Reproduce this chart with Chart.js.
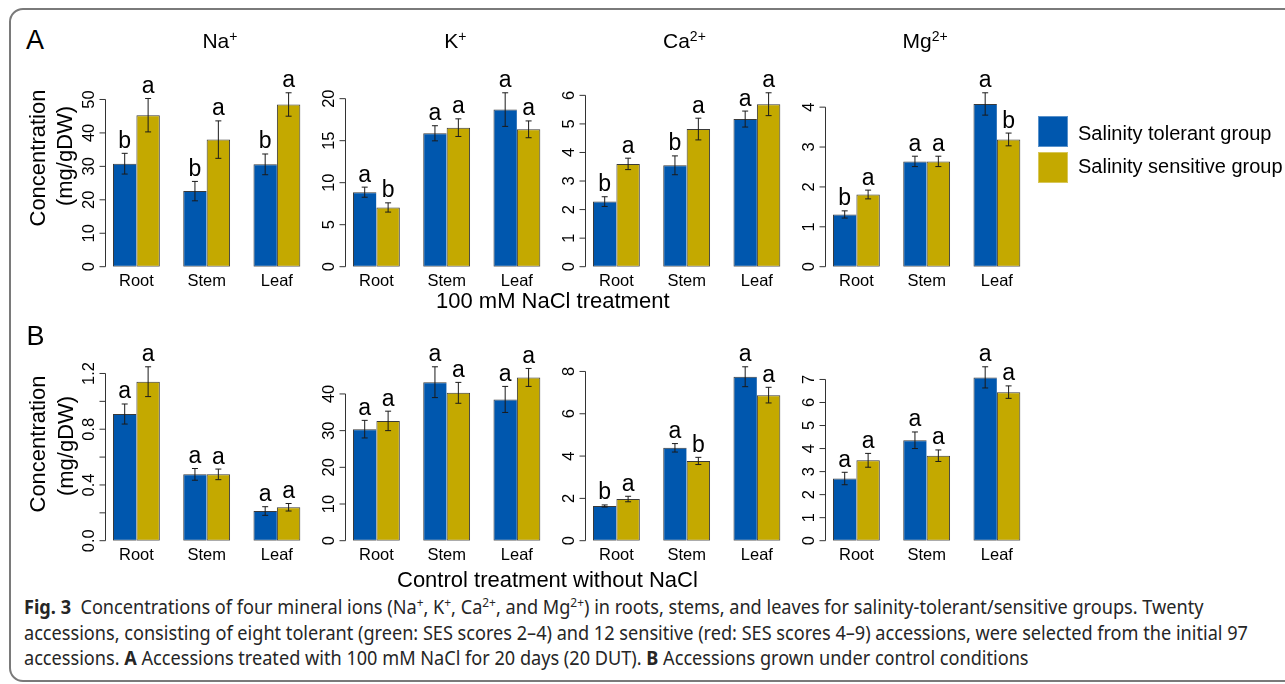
<!DOCTYPE html>
<html>
<head>
<meta charset="utf-8">
<title>Mineral ion concentrations in salinity tolerant and sensitive groups</title>
<script src="https://cdn.jsdelivr.net/npm/chart.js@4.4.1/dist/chart.umd.min.js"></script>
<style>
  html, body { margin: 0; padding: 0; background: #fff; }
  body { width: 1285px; height: 684px; overflow: hidden; position: relative;
         font-family: "Liberation Sans", Arial, sans-serif; color: #000; }
  .frame { position: absolute; left: 9px; top: 8px; width: 1330px; height: 674px;
           box-sizing: border-box; border: 2px solid #7a7a7a; border-radius: 14px; }
  .txt { position: absolute; white-space: nowrap; line-height: 1; }
  .txt sup { font-size: 14px; line-height: 0; vertical-align: 7px; }
  .ytitle { position: absolute; width: 220px; height: 22px; line-height: 22px; font-size: 22px;
            text-align: center; white-space: nowrap; transform: rotate(-90deg); }
  .swatch { position: absolute; width: 30px; height: 31px; box-sizing: border-box;
            border: 1px solid rgba(255,255,255,0.35); }
  canvas { position: absolute; }
  .cap { position: absolute; left: 24px; white-space: nowrap; font-family: "Noto Sans", sans-serif;
         font-size: 19px; line-height: 19px; color: #262626; transform-origin: 0 0; }
  .cap sup { font-size: 12.5px; line-height: 0; vertical-align: 7px; }
</style>
</head>
<body>
<div class="frame"></div>
<div id="figure"></div>
<div class="cap" id="cap1" style="top:598.1px"><b>Fig. 3</b>&nbsp; Concentrations of four mineral ions (Na<sup>+</sup>, K<sup>+</sup>, Ca<sup>2+</sup>, and Mg<sup>2+</sup>) in roots, stems, and leaves for salinity-tolerant/sensitive groups. Twenty</div>
<div class="cap" id="cap2" style="top:623.6px">accessions, consisting of eight tolerant (green: SES scores 2–4) and 12 sensitive (red: SES scores 4–9) accessions, were selected from the initial 97</div>
<div class="cap" id="cap3" style="top:649.1px">accessions. <b>A</b> Accessions treated with 100 mM NaCl for 20 days (20 DUT). <b>B</b> Accessions grown under control conditions</div>
<script>
// ---- categories and labels ----
const organs = ['Root', 'Stem', 'Leaf'];
const groupNames = ['Salinity tolerant group', 'Salinity sensitive group'];
const ionSymbols = ['Na', 'K', 'Ca', 'Mg'];
const ionCharges = ['+', '+', '2+', '2+'];
const treatmentTitles = ['100 mM NaCl treatment', 'Control treatment without NaCl'];
const panelLetters = ['A', 'B'];
const yTitleLines = ['Concentration', '(mg/gDW)'];

// ---- 100 mM NaCl treatment: mean, standard error, significance letter ----
const naSaltTol = [30.8, 22.6, 30.6];
const naSaltTolSE = [3.1, 2.9, 3.1];
const naSaltTolSig = ['b', 'b', 'b'];
const naSaltSen = [45.3, 38.0, 48.5];
const naSaltSenSE = [5.0, 5.6, 3.5];
const naSaltSenSig = ['a', 'a', 'a'];

const kSaltTol = [8.87, 15.88, 18.7];
const kSaltTolSE = [0.6, 0.9, 2.0];
const kSaltTolSig = ['a', 'a', 'a'];
const kSaltSen = [7.05, 16.55, 16.35];
const kSaltSenSE = [0.55, 1.05, 1.0];
const kSaltSenSig = ['b', 'a', 'a'];

const caSaltTol = [2.28, 3.55, 5.17];
const caSaltTolSE = [0.17, 0.33, 0.28];
const caSaltTolSig = ['b', 'b', 'a'];
const caSaltSen = [3.6, 4.82, 5.69];
const caSaltSenSE = [0.2, 0.38, 0.4];
const caSaltSenSig = ['a', 'a', 'a'];

const mgSaltTol = [1.31, 2.64, 4.08];
const mgSaltTolSE = [0.09, 0.13, 0.28];
const mgSaltTolSig = ['b', 'a', 'a'];
const mgSaltSen = [1.81, 2.64, 3.19];
const mgSaltSenSE = [0.11, 0.13, 0.16];
const mgSaltSenSig = ['a', 'a', 'b'];

// ---- control treatment without NaCl ----
const naCtrlTol = [0.909, 0.476, 0.213];
const naCtrlTolSE = [0.072, 0.042, 0.031];
const naCtrlTolSig = ['a', 'a', 'a'];
const naCtrlSen = [1.141, 0.476, 0.24];
const naCtrlSenSE = [0.107, 0.038, 0.027];
const naCtrlSenSig = ['a', 'a', 'a'];

const kCtrlTol = [30.4, 43.2, 38.5];
const kCtrlTolSE = [2.4, 4.2, 3.55];
const kCtrlTolSig = ['a', 'a', 'a'];
const kCtrlSen = [32.65, 40.3, 44.5];
const kCtrlSenSE = [2.65, 2.85, 2.45];
const kCtrlSenSig = ['a', 'a', 'a'];

const caCtrlTol = [1.64, 4.39, 7.75];
const caCtrlTolSE = [0.05, 0.2, 0.47];
const caCtrlTolSig = ['b', 'a', 'a'];
const caCtrlSen = [1.97, 3.77, 6.88];
const caCtrlSenSE = [0.13, 0.17, 0.37];
const caCtrlSenSig = ['a', 'b', 'a'];

const mgCtrlTol = [2.70, 4.36, 7.09];
const mgCtrlTolSE = [0.27, 0.36, 0.46];
const mgCtrlTolSig = ['a', 'a', 'a'];
const mgCtrlSen = [3.49, 3.69, 6.45];
const mgCtrlSenSE = [0.3, 0.25, 0.27];
const mgCtrlSenSig = ['a', 'a', 'a'];

// ---- y-axis ticks and their labels ----
const naSaltTicks = [0, 10, 20, 30, 40, 50];
const naSaltTickLabels = ['0', '10', '20', '30', '40', '50'];
const kSaltTicks = [0, 5, 10, 15, 20];
const kSaltTickLabels = ['0', '5', '10', '15', '20'];
const caSaltTicks = [0, 1, 2, 3, 4, 5, 6];
const caSaltTickLabels = ['0', '1', '2', '3', '4', '5', '6'];
const mgSaltTicks = [0, 1, 2, 3, 4];
const mgSaltTickLabels = ['0', '1', '2', '3', '4'];
const naCtrlTicks = [0, 0.2, 0.4, 0.6, 0.8, 1.0, 1.2];
const naCtrlTickLabels = ['0.0', '', '0.4', '', '0.8', '', '1.2'];
const kCtrlTicks = [0, 10, 20, 30, 40];
const kCtrlTickLabels = ['0', '10', '20', '30', '40'];
const caCtrlTicks = [0, 2, 4, 6, 8];
const caCtrlTickLabels = ['0', '2', '4', '6', '8'];
const mgCtrlTicks = [0, 1, 2, 3, 4, 5, 6, 7];
const mgCtrlTickLabels = ['0', '1', '2', '3', '4', '5', '6', '7'];

// ---- styling and layout ----
const BLUE = '#0057ae';
const GOLD = '#c4a900';
const EDGE = '#3a3a3a';
const INK = '#1a1a1a';
const FONT = '"Liberation Sans", Arial, sans-serif';
const AXIS_X0 = 105.5;      // left edge of the first plot region
const COL_STEP = 240;       // horizontal distance between panels
const PLOT_W = 202.3;       // plot region width (bar units 0.68 .. 9.32)
const PLOT_H = 200;         // height of the y range [0, yMax]
const ZERO_Y = [266.7, 540.7];
const CANVAS_W = 280, CANVAS_H = 300;
const PAD_LEFT = 60.5;

const panels = [
  { row: 0, col: 0, tol: naSaltTol, tolSE: naSaltTolSE, tolSig: naSaltTolSig, sen: naSaltSen, senSE: naSaltSenSE, senSig: naSaltSenSig, ticks: naSaltTicks, tickLabels: naSaltTickLabels },
  { row: 0, col: 1, tol: kSaltTol, tolSE: kSaltTolSE, tolSig: kSaltTolSig, sen: kSaltSen, senSE: kSaltSenSE, senSig: kSaltSenSig, ticks: kSaltTicks, tickLabels: kSaltTickLabels },
  { row: 0, col: 2, tol: caSaltTol, tolSE: caSaltTolSE, tolSig: caSaltTolSig, sen: caSaltSen, senSE: caSaltSenSE, senSig: caSaltSenSig, ticks: caSaltTicks, tickLabels: caSaltTickLabels },
  { row: 0, col: 3, tol: mgSaltTol, tolSE: mgSaltTolSE, tolSig: mgSaltTolSig, sen: mgSaltSen, senSE: mgSaltSenSE, senSig: mgSaltSenSig, ticks: mgSaltTicks, tickLabels: mgSaltTickLabels },
  { row: 1, col: 0, tol: naCtrlTol, tolSE: naCtrlTolSE, tolSig: naCtrlTolSig, sen: naCtrlSen, senSE: naCtrlSenSE, senSig: naCtrlSenSig, ticks: naCtrlTicks, tickLabels: naCtrlTickLabels },
  { row: 1, col: 1, tol: kCtrlTol, tolSE: kCtrlTolSE, tolSig: kCtrlTolSig, sen: kCtrlSen, senSE: kCtrlSenSE, senSig: kCtrlSenSig, ticks: kCtrlTicks, tickLabels: kCtrlTickLabels },
  { row: 1, col: 2, tol: caCtrlTol, tolSE: caCtrlTolSE, tolSig: caCtrlTolSig, sen: caCtrlSen, senSE: caCtrlSenSE, senSig: caCtrlSenSig, ticks: caCtrlTicks, tickLabels: caCtrlTickLabels },
  { row: 1, col: 3, tol: mgCtrlTol, tolSE: mgCtrlTolSE, tolSig: mgCtrlTolSig, sen: mgCtrlSen, senSE: mgCtrlSenSE, senSig: mgCtrlSenSig, ticks: mgCtrlTicks, tickLabels: mgCtrlTickLabels }
];

// group centre on the bar axis: each group is two bars wide with one bar of space
const groupCentre = i => 3 * i + 2;

// error bars, significance letters, R-style y axis and organ labels
function panelDecor(p) {
  return {
    id: 'panelDecor',
    afterDatasetsDraw(chart) {
      const { ctx, chartArea, scales: { x, y } } = chart;
      ctx.save();
      const series = [[p.tol, p.tolSE, p.tolSig], [p.sen, p.senSE, p.senSig]];
      series.forEach(([vals, ses, sig], d) => {
        chart.getDatasetMeta(d).data.forEach((bar, i) => {
          const cx = bar.x;
          const top = y.getPixelForValue(vals[i] + ses[i]);
          const bot = y.getPixelForValue(vals[i] - ses[i]);
          ctx.strokeStyle = INK;
          ctx.lineWidth = 1;
          ctx.beginPath();
          ctx.moveTo(cx, top); ctx.lineTo(cx, bot);
          ctx.moveTo(cx - 3, top); ctx.lineTo(cx + 3, top);
          ctx.moveTo(cx - 3, bot); ctx.lineTo(cx + 3, bot);
          ctx.stroke();
          ctx.fillStyle = '#000';
          ctx.font = '23px ' + FONT;
          ctx.textAlign = 'center';
          ctx.textBaseline = 'alphabetic';
          ctx.fillText(sig[i], cx, top - 5.5);
        });
      });

      // y axis: line from first to last tick, outward ticks, rotated labels
      const ax = chartArea.left;
      ctx.strokeStyle = '#333';
      ctx.lineWidth = 1;
      ctx.beginPath();
      ctx.moveTo(ax, y.getPixelForValue(p.ticks[0]));
      ctx.lineTo(ax, y.getPixelForValue(p.ticks[p.ticks.length - 1]));
      p.ticks.forEach(t => {
        const ty = y.getPixelForValue(t);
        ctx.moveTo(ax - 6, ty); ctx.lineTo(ax, ty);
      });
      ctx.stroke();
      ctx.fillStyle = '#000';
      ctx.font = '16.5px ' + FONT;
      ctx.textAlign = 'center';
      ctx.textBaseline = 'alphabetic';
      p.ticks.forEach((t, i) => {
        const label = p.tickLabels[i];
        if (!label) return;
        ctx.save();
        ctx.translate(ax - 11.5, y.getPixelForValue(t));
        ctx.rotate(-Math.PI / 2);
        ctx.fillText(label, 0, 0);
        ctx.restore();
      });

      // organ names under each group
      organs.forEach((name, i) => {
        ctx.fillText(name, x.getPixelForValue(groupCentre(i)), chartArea.bottom + 19.3);
      });
      ctx.restore();
    }
  };
}

const figure = document.getElementById('figure');

panels.forEach(p => {
  const canvas = document.createElement('canvas');
  canvas.width = CANVAS_W;
  canvas.height = CANVAS_H;
  const left = Math.round(AXIS_X0 + p.col * COL_STEP - PAD_LEFT);
  const top = Math.round(ZERO_Y[p.row] - PLOT_H - 60);
  canvas.style.left = left + 'px';
  canvas.style.top = top + 'px';
  figure.appendChild(canvas);

  const padLeft = AXIS_X0 + p.col * COL_STEP - left;
  const padTop = ZERO_Y[p.row] - PLOT_H - top;
  const peak = Math.max(...p.tol.map((v, i) => v + p.tolSE[i]), ...p.sen.map((v, i) => v + p.senSE[i]));
  const yMax = peak * 1.15;

  const barStyle = { borderColor: EDGE, borderSkipped: false, categoryPercentage: 2 / 3, barPercentage: 1 };
  new Chart(canvas, {
    type: 'bar',
    data: {
      datasets: [
        Object.assign({ label: groupNames[0], backgroundColor: BLUE,
          borderWidth: { top: 1, left: 1, bottom: 1, right: 0 },
          data: p.tol.map((v, i) => ({ x: groupCentre(i), y: v })) }, barStyle),
        Object.assign({ label: groupNames[1], backgroundColor: GOLD, borderWidth: 1,
          data: p.sen.map((v, i) => ({ x: groupCentre(i), y: v })) }, barStyle)
      ]
    },
    options: {
      responsive: false,
      animation: false,
      events: [],
      devicePixelRatio: 1,
      layout: { padding: { left: padLeft, right: CANVAS_W - padLeft - PLOT_W, top: padTop, bottom: CANVAS_H - padTop - PLOT_H } },
      plugins: { legend: { display: false }, tooltip: { enabled: false } },
      scales: {
        x: { type: 'linear', min: 0.68, max: 9.32, offset: false, display: false,
             afterBuildTicks: s => { s.ticks = organs.map((_, i) => ({ value: groupCentre(i) })); } },
        y: { type: 'linear', min: 0, max: yMax, display: false }
      }
    },
    plugins: [panelDecor(p)]
  });
});

// ---- static text: panel letters, ion titles, axis titles, legend ----
function addText(text, left, top, size, html) {
  const d = document.createElement('div');
  d.className = 'txt';
  d.style.left = left + 'px';
  d.style.top = top + 'px';
  d.style.fontSize = size + 'px';
  if (html) d.innerHTML = text; else d.textContent = text;
  figure.appendChild(d);
  return d;
}

// panel letters (baseline = top + 0.8465 * size)
addText(panelLetters[0], 26, 49.5 - 0.8465 * 27, 27);
addText(panelLetters[1], 26.5, 345.5 - 0.8465 * 27, 27);

// ion titles above the salt-treatment row
const titleLeft = [202.4, 444.2, 663, 902.5];
ionSymbols.forEach((s, i) => {
  addText(s + '<sup>' + ionCharges[i] + '</sup>', titleLeft[i], 47.3 - 0.8465 * 21, 21, true);
});

// treatment titles below each row
addText(treatmentTitles[0], 436, 309 - 0.8465 * 22, 22);
addText(treatmentTitles[1], 397, 588 - 0.8465 * 22, 22);

// rotated y titles, two lines per row
const yTitleCentres = [[[38, 158.3], [65.3, 156.3]], [[37.5, 444.3], [65.5, 445.5]]];
yTitleCentres.forEach(row => {
  row.forEach(([cx, cy], k) => {
    const d = document.createElement('div');
    d.className = 'ytitle';
    d.style.left = (cx - 110) + 'px';
    d.style.top = (cy - 11) + 'px';
    d.textContent = yTitleLines[k];
    figure.appendChild(d);
  });
});

// legend
[BLUE, GOLD].forEach((c, k) => {
  const sw = document.createElement('div');
  sw.className = 'swatch';
  sw.style.left = '1038.3px';
  sw.style.top = (116 + k * 35.7) + 'px';
  sw.style.background = c;
  figure.appendChild(sw);
  addText(groupNames[k], 1078, 140 + k * 33.3 - 0.8465 * 20, 20);
});

// caption lines share one horizontal scale so the long second line spans the box
const c2 = document.getElementById('cap2');
const sx = 1224 / c2.getBoundingClientRect().width;
['cap1', 'cap2', 'cap3'].forEach(id => {
  document.getElementById(id).style.transform = 'scaleX(' + sx + ')';
});
</script>
</body>
</html>
